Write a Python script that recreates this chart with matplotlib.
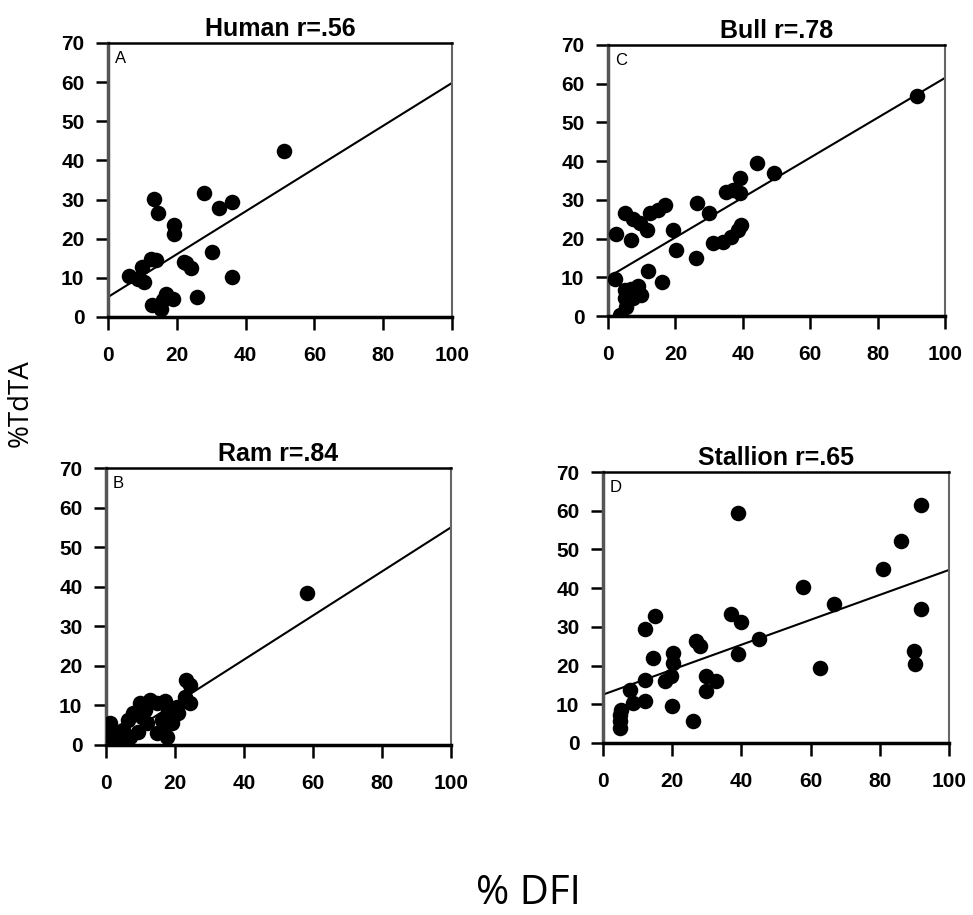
import matplotlib
matplotlib.use("Agg")
import matplotlib.pyplot as plt

# ---------------- DATA ----------------
human_x = [51.2, 13.4, 14.4, 28.0, 32.4, 36.1, 19.1, 19.1, 30.2, 12.5, 13.9, 10.0, 6.1, 8.6,
           10.5, 22.2, 24.1, 22.7, 36.1, 25.8, 12.9, 15.4, 16.8, 18.8, 16.1]
human_y = [42.5, 30.1, 26.6, 31.6, 27.9, 29.5, 23.5, 21.3, 16.7, 14.9, 14.5, 12.8, 10.4, 9.8,
           9.0, 14.1, 12.4, 13.7, 10.2, 5.0, 3.0, 2.1, 6.0, 4.7, 4.3]

bull_x = [91.6, 44.1, 49.2, 39.3, 35.1, 37.1, 39.1, 26.3, 30.0, 16.8, 14.9, 12.4, 5.0, 7.4,
          9.6, 11.6, 2.5, 6.9, 19.3, 20.1, 26.0, 31.2, 34.2, 36.6, 38.6, 39.6, 2.0, 11.9,
          16.1, 5.0, 6.9, 8.9, 9.9, 7.4, 5.0, 5.4, 3.7]
bull_y = [56.7, 39.6, 37.0, 35.6, 32.1, 32.6, 31.7, 29.3, 26.7, 28.7, 27.4, 26.5, 26.7, 25.0,
          23.9, 22.2, 21.2, 19.6, 22.2, 17.1, 15.1, 18.8, 19.2, 20.5, 22.2, 23.5, 9.5, 11.5,
          8.9, 6.7, 7.1, 7.8, 5.4, 4.6, 4.6, 2.4, 0.3]

ram_x = [58.2, 23.2, 24.4, 24.4, 23.0, 1.2, 3.1, 2.1, 5.0, 6.5, 7.9, 9.9, 11.3, 12.8, 14.7,
         17.1, 18.1, 19.5, 20.9, 20.5, 16.1, 16.1, 17.8, 14.7, 9.4, 7.0, 11.8, 10.3, 19.0,
         4.5, 0.7]
ram_y = [38.4, 16.4, 15.2, 10.5, 12.2, 5.5, 3.0, 1.3, 3.8, 6.3, 8.0, 10.5, 8.9, 11.4, 10.5,
         11.0, 8.9, 7.2, 8.0, 9.7, 6.3, 3.8, 2.1, 3.0, 3.4, 2.1, 5.5, 7.1, 5.5, 1.3, 2.5]

stallion_x = [92.0, 39.0, 86.0, 80.9, 57.8, 66.7, 92.0, 14.9, 12.0, 37.1, 40.0, 45.1, 27.0,
              28.1, 39.0, 89.8, 90.1, 62.8, 14.5, 20.2, 20.2, 19.7, 17.8, 29.9, 32.8, 29.9,
              12.0, 7.7, 12.0, 8.7, 20.0, 26.0, 4.8, 4.8, 4.8, 5.3]
stallion_y = [61.4, 59.5, 52.2, 45.0, 40.3, 36.0, 34.7, 32.9, 29.5, 33.2, 31.2, 26.9, 26.3,
              25.0, 23.1, 23.7, 20.3, 19.4, 21.9, 23.3, 20.7, 17.2, 15.9, 17.2, 15.9, 13.4,
              16.4, 13.8, 10.8, 10.3, 9.5, 5.6, 7.3, 5.6, 3.9, 8.6]

# regression lines (intercept, slope) as drawn in the figure
human_fit = (5.1, 0.547)
bull_fit = (10.0, 0.515)
ram_fit = (-0.7, 0.557)
stallion_fit = (12.5, 0.322)

titles = ["Human r=.56", "Bull r=.78", "Ram r=.84", "Stallion r=.65"]
letters = ["A", "C", "B", "D"]
xticks = [0, 20, 40, 60, 80, 100]
yticks = [0, 10, 20, 30, 40, 50, 60, 70]

# ---------------- FIGURE ----------------
W, H = 973, 915
fig = plt.figure(figsize=(W / 100, H / 100), dpi=100)

# axes boxes in pixels: left, right, top, bottom
boxes = [(108, 452, 43, 317), (608, 945, 45, 316), (106, 451, 468, 745), (603, 949, 472, 743)]
series = [(human_x, human_y, human_fit), (bull_x, bull_y, bull_fit),
          (ram_x, ram_y, ram_fit), (stallion_x, stallion_y, stallion_fit)]

for (l, r, t, b), (xs, ys, fit), title, letter in zip(boxes, series, titles, letters):
    ax = fig.add_axes([l / W, 1 - b / H, (r - l) / W, (b - t) / H])
    ax.scatter(xs, ys, s=125, color="black", zorder=3, linewidths=0)
    a, m = fit
    ax.plot([0, 100], [a + m * 0, a + m * 100], color="black", lw=1.5, zorder=2)
    ax.set_xlim(0, 100)
    ax.set_ylim(0, 70)
    ax.set_xticks(xticks)
    ax.set_yticks(yticks)
    ax.tick_params(direction="out", length=9, width=1.8, labelsize=15)
    ax.tick_params(axis="x", pad=12)
    ax.tick_params(axis="y", pad=8)
    for lab in ax.get_xticklabels() + ax.get_yticklabels():
        lab.set_fontweight("bold")
        lab.set_family("Liberation Sans")
    ax.spines["left"].set_linewidth(2.5)
    ax.spines["left"].set_color("#555555")
    ax.spines["bottom"].set_linewidth(2.5)
    ax.spines["top"].set_linewidth(1.8)
    ax.spines["right"].set_linewidth(1.5)
    ax.spines["right"].set_color("#666666")
    ax.set_title(title, fontsize=18, fontweight="bold", family="Liberation Sans", pad=5)
    ax.text(0.02, 0.97, letter, transform=ax.transAxes, fontsize=12,
            family="Liberation Sans", va="top", ha="left")

fig.text(21 / W, 1 - 403 / H, "%TdTA", rotation=90, fontsize=20, family="Open Sans",
         ha="center", va="center")
fig.text(528 / W, 1 - 904 / H, "% DFI", fontsize=29, family="Open Sans",
         ha="center", va="baseline")

fig.savefig("out.png", dpi=100)
